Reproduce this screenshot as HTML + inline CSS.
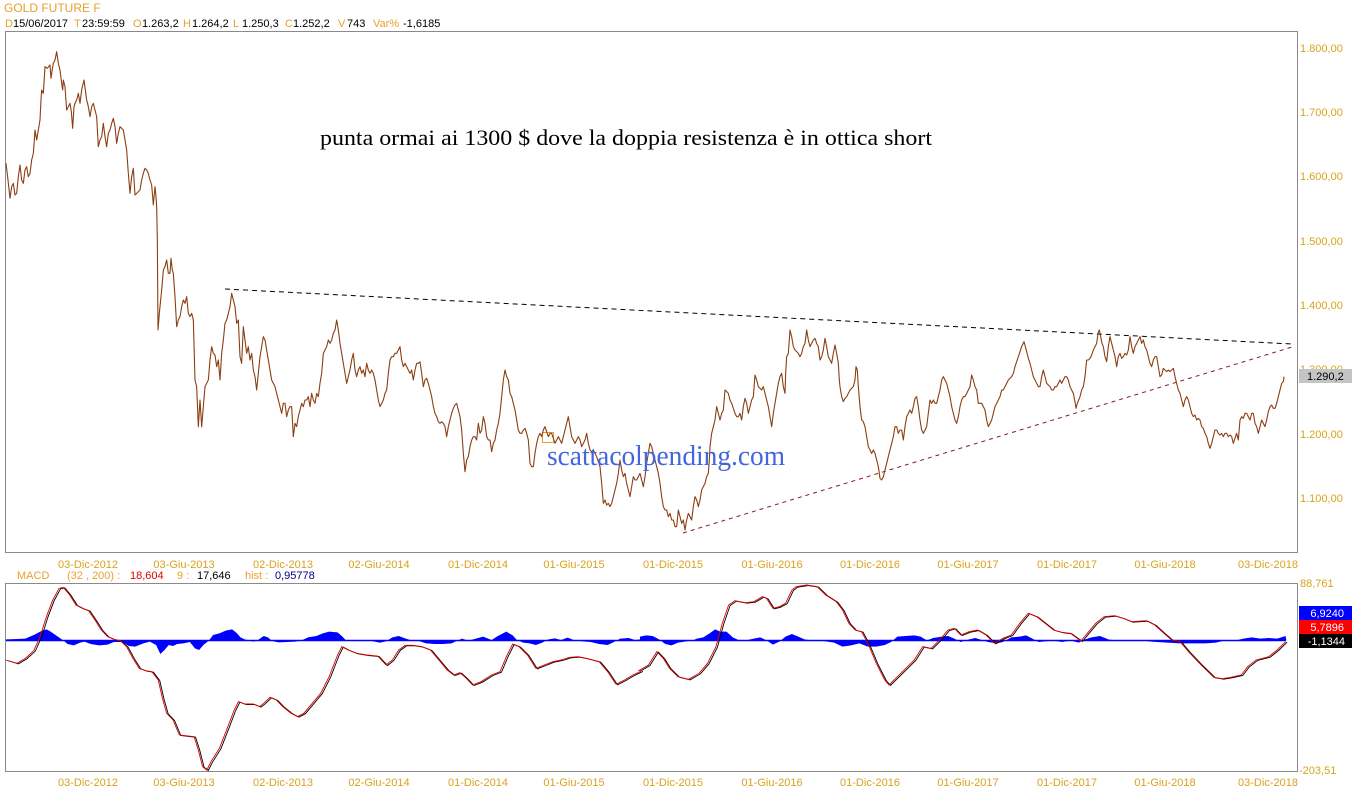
<!DOCTYPE html>
<html><head><meta charset="utf-8"><style>
html,body{margin:0;padding:0;background:#fff;}
svg{display:block;font-family:"Liberation Sans",Arial,sans-serif;font-size:11px;}
</style></head><body>
<svg width="1352" height="800" viewBox="0 0 1352 800" xmlns="http://www.w3.org/2000/svg">
<rect width="1352" height="800" fill="#fff"/>
<!-- header -->
<text x="4" y="12" style="font-size:12px" fill="#e8a02c">GOLD FUTURE F</text>
<text y="27" fill="#000"><tspan x="5" fill="#e8a02c">D</tspan><tspan x="13">15/06/2017</tspan><tspan x="74" fill="#e8a02c">T</tspan><tspan x="82">23:59:59</tspan><tspan x="133" fill="#e8a02c">O</tspan><tspan x="142">1.263,2</tspan><tspan x="183" fill="#e8a02c">H</tspan><tspan x="192">1.264,2</tspan><tspan x="233" fill="#e8a02c">L</tspan><tspan x="242">1.250,3</tspan><tspan x="285" fill="#e8a02c">C</tspan><tspan x="293">1.252,2</tspan><tspan x="338" fill="#e8a02c">V</tspan><tspan x="347">743</tspan><tspan x="373" fill="#e8a02c">Var%</tspan><tspan x="403">-1,6185</tspan></text>

<!-- main frame -->
<rect x="5.5" y="31.5" width="1292" height="521" fill="none" stroke="#8a8a8a" stroke-width="1"/>

<!-- y labels main -->
<g fill="#d9a21b">
<text x="1300" y="52">1.800,00</text>
<text x="1300" y="116">1.700,00</text>
<text x="1300" y="180">1.600,00</text>
<text x="1300" y="245">1.500,00</text>
<text x="1300" y="309">1.400,00</text>
<text x="1300" y="373">1.300,00</text>
<text x="1300" y="438">1.200,00</text>
<text x="1300" y="502">1.100,00</text>
</g>
<rect x="1299" y="369" width="53" height="14" fill="#c4c4c4"/>
<text x="1307" y="380" fill="#000">1.290,2</text>

<!-- annotation text -->
<text x="320" y="145" style="font-family:'Liberation Serif','Times New Roman',serif;font-size:22px" fill="#000" textLength="612" lengthAdjust="spacingAndGlyphs">punta ormai ai 1300 $ dove la doppia resistenza è in ottica short</text>

<!-- trend lines -->
<line x1="225" y1="289" x2="1292" y2="344" stroke="#000" stroke-width="1" stroke-dasharray="5,4"/>
<line x1="683" y1="533" x2="1292" y2="347" stroke="#8b1a1a" stroke-width="1" stroke-dasharray="4,4"/>

<rect x="542.5" y="432.5" width="11" height="10" fill="none" stroke="#e0a030" stroke-width="1"/>

<!-- price -->
<g fill="none" stroke="#8b3e12" stroke-width="1.1" stroke-linejoin="round">
<polyline vector-effect="non-scaling-stroke" transform="translate(0,40) scale(0.33333)" points="18,370 24,420 30,475 35,440 40,430 45,465 50,460 55,410 60,375 65,420 70,430 75,390 80,380 85,410 90,400 95,360 100,340 103,300 105,270 110,300 115,270 120,240 123,180 125,150 130,160 135,80 142,85 150,75 153,115 158,80 160,70 165,60 170,35 175,70 180,90 185,130 188,150 190,120 195,140 200,210 205,200 210,190 214,215 218,265 222,200 225,190 230,180 235,160 240,190 245,150 252,120 256,150 260,180 265,200 270,230 275,200 280,190 285,210 290,230 295,320 300,300 305,290 310,250 315,290 320,320 325,280 330,270 335,250 340,235 345,260 350,310 355,280 360,260 365,265 370,270 375,300 380,330 385,400 390,460 395,410 400,385 405,465 410,460 420,450 425,420 430,400 435,385 440,390 445,400 450,420 455,435 460,495 465,440 468,470 470,500 472,600 474,870 478,820 482,780 486,740 490,690 495,680 500,660 505,700 510,700 513,655 517,690 520,700 525,770 530,860 535,840 540,830 545,800 550,780 555,790 560,770 565,820 570,830 575,820 580,840 585,1020 590,1040 595,1160 600,1080 605,1160 610,1100 615,1040 620,1030 625,1020 630,960 635,920 640,940 645,945 650,980 655,960 660,1020 665,940 670,900 675,850 680,840 685,820 690,800 695,760 700,780 705,800 710,850 715,840 720,950 725,970 730,860 735,900 740,940 745,920 750,960 755,940 760,990 765,1010 770,1050 775,1000 780,950 785,920 790,890 795,900 800,930 805,960 810,990 815,1020 820,1030 825,1040 830,1060 835,1080 840,1100 845,1120 850,1090 855,1090 860,1130 865,1110 870,1100 875,1100 880,1190 885,1150 890,1160 895,1130 900,1110 905,1090 910,1100 915,1080 920,1080 925,1070 930,1100 935,1060 940,1080 945,1090 950,1060 955,1070 960,1030 965,1000 970,940 975,930 980,920 985,900 990,910 995,900 1000,880 1005,870 1010,840 1015,870 1020,910 1025,940 1030,970 1035,1000 1040,1030 1045,1010 1050,990 1055,960 1060,940 1065,990 1070,1010 1075,990 1080,980 1085,1000 1090,990 1095,1010 1100,970 1105,990 1110,1000 1115,990 1120,1000 1125,1020 1130,1050 1135,1080 1140,1100 1145,1090 1150,1080 1155,1060 1160,1050 1165,1000 1170,960 1175,950 1180,950 1185,940 1190,940 1195,930 1200,920 1205,960 1210,980 1215,970 1220,980 1225,990 1230,1000 1235,990 1240,1020 1245,990 1250,970 1255,970 1260,965"/>
<polyline vector-effect="non-scaling-stroke" transform="translate(420,280) scale(0.33333)" points="0,245 5,280 10,320 15,300 20,295 25,310 30,330 35,350 40,380 45,400 50,410 55,425 60,430 65,425 70,430 75,440 80,470 85,440 90,420 95,400 100,385 105,375 110,370 115,390 120,410 125,450 130,520 135,575 140,540 145,530 150,500 155,480 160,470 165,470 170,480 175,430 180,460 185,450 190,410 195,430 200,470 205,480 210,480 215,515 220,490 225,480 230,450 235,430 240,400 245,350 250,300 255,270 260,290 265,300 270,340 275,350 280,370 285,390 290,420 295,450 300,460 305,460 310,450 315,445 320,460 325,480 330,550 335,560 340,560 345,520 350,490 355,470 360,460 365,470 370,450 375,440 380,455 385,470 390,460 395,460 400,475 405,490 410,480 415,470 420,480 425,490 430,470 435,450 440,430 445,410 450,440 455,470 460,480 465,490 470,480 475,470 480,480 485,500 490,490 495,480 500,460 505,490 510,510 515,515 520,510 525,520 530,530 535,545 540,560 545,610 550,670 555,660 560,675 565,670 570,680 575,670 580,650 585,630 590,610 595,580 600,540 605,570 610,590 615,580 620,610 625,630 630,650 635,620 640,590 645,600 650,600 655,590 660,580 665,600 670,620 675,590 680,550 685,520 690,490 695,500 700,520 705,540 710,560 715,580 720,610 725,650 730,680 735,690 740,690 745,710 750,700 755,720 760,720 765,740 770,740 775,690 780,710 785,730 790,720 795,750 800,720 805,700 810,710 815,720 820,680 825,650 830,660 835,680 840,660 845,630 850,620 855,610 860,590 865,580 868,540 870,500 875,460 880,440 885,420 890,380 895,400 900,420 905,400 910,390 915,330 920,335 925,340 930,360 935,370 940,385 945,400 950,410 955,410 960,400 965,420 970,380 975,355 980,370 985,400 990,380 995,360 1000,350 1005,285 1010,300 1015,320 1020,325 1025,330 1030,320 1035,340 1040,360 1045,380 1050,410 1055,440 1060,400 1065,370 1070,340 1075,310 1080,290 1085,280 1090,320 1095,340 1097,280 1100,230 1105,220 1110,150 1115,170 1120,200 1125,210 1130,215 1135,220 1140,230 1145,220 1150,200 1155,190 1160,150 1165,180 1170,200 1175,190 1180,180 1185,175 1190,190 1195,200 1200,240 1205,230 1210,210 1215,175 1220,200 1225,230 1230,240 1235,250 1240,220 1245,195 1250,220 1255,250 1258,300 1260,320"/>
<polyline vector-effect="non-scaling-stroke" transform="translate(840,280) scale(0.33333)" points="0,320 5,350 10,365 15,355 20,350 25,340 30,330 35,325 40,320 45,300 48,260 52,270 55,320 60,380 65,420 70,425 75,440 80,470 85,500 90,510 95,520 100,510 105,520 110,540 115,560 118,580 120,595 125,600 130,590 135,570 140,550 145,530 150,510 155,490 160,470 165,440 170,440 175,460 180,450 185,450 190,480 195,440 200,410 205,400 210,390 215,400 220,380 225,355 230,350 235,380 240,420 245,450 250,460 255,450 260,440 265,400 270,360 275,370 280,360 285,370 290,370 295,350 300,330 305,300 310,290 315,300 320,310 325,330 330,350 335,380 340,400 345,420 350,430 355,410 360,380 365,360 370,350 375,350 380,340 385,330 390,320 395,285 400,300 405,320 410,330 415,370 420,370 425,370 430,380 435,390 440,420 445,440 450,430 455,420 460,400 465,380 470,370 475,360 480,350 485,330 490,330 495,320 500,310 505,300 510,295 515,290 520,280 525,260 530,245 535,230 540,215 545,200 552,185 556,200 560,215 565,235 570,250 575,270 580,290 585,300 590,310 595,320 600,320 605,290 610,270 615,290 620,310 625,315 630,320 635,330 640,330 645,320 650,320 655,310 660,300 665,310 670,300 675,290 680,290 685,300 690,320 695,330 700,340 705,365 708,385 712,370 716,360 720,350 725,330 730,320 735,290 740,240 745,240 750,235 755,225 760,210 765,200 770,190 774,160 778,150 782,170 786,190 790,200 795,230 800,245 805,200 810,170 815,190 820,210 825,230 830,260 835,230 840,220 845,235 850,230 855,220 860,225 865,210 870,170 875,200 880,220 885,200 890,190 895,180 900,170 905,190 910,180 915,200 920,210 925,230 930,250 935,260 940,240 945,230 950,230 955,260 960,290 965,285 970,265 975,270 980,275 985,270 990,275 995,270 1000,265 1005,290 1010,310 1015,330 1020,340 1025,360 1030,380 1035,360 1040,350 1045,360 1050,380 1055,400 1060,410 1065,405 1070,420 1075,415 1080,420 1085,440 1090,445 1095,460 1100,470 1105,490 1110,505 1115,490 1120,470 1125,450 1130,450 1135,460 1140,465 1145,460 1150,470 1155,460 1160,460 1165,470 1170,465 1175,470 1180,490 1185,475 1190,460 1195,480 1200,420 1205,410 1210,415 1215,400 1220,400 1225,410 1230,420 1235,400 1240,400 1245,430 1250,440 1255,460 1260,440 1265,420 1270,430 1275,440 1280,420 1285,395 1290,380 1295,375 1300,385 1305,385 1310,370 1315,350 1320,330 1325,310 1330,305 1332,290"/>
</g>

<!-- watermark -->
<text x="547" y="465" style="font-family:'Liberation Serif','Times New Roman',serif;font-size:28px" fill="#4466dd" textLength="238" lengthAdjust="spacingAndGlyphs">scattacolpending.com</text>

<!-- date labels top -->
<g fill="#d9a21b" text-anchor="middle">
<text x="88" y="568">03-Dic-2012</text>
<text x="184" y="568">03-Giu-2013</text>
<text x="283" y="568">02-Dic-2013</text>
<text x="379" y="568">02-Giu-2014</text>
<text x="478" y="568">01-Dic-2014</text>
<text x="574" y="568">01-Giu-2015</text>
<text x="673" y="568">01-Dic-2015</text>
<text x="772" y="568">01-Giu-2016</text>
<text x="870" y="568">01-Dic-2016</text>
<text x="968" y="568">01-Giu-2017</text>
<text x="1067" y="568">01-Dic-2017</text>
<text x="1165" y="568">01-Giu-2018</text>
<text x="1268" y="568">03-Dic-2018</text>
</g>

<!-- MACD header -->
<text y="579"><tspan x="17" fill="#e8a02c">MACD</tspan><tspan x="67" fill="#e8a02c">(32 , 200) :</tspan><tspan x="130" fill="#e00000">18,604</tspan><tspan x="177" fill="#e8a02c">9 :</tspan><tspan x="197" fill="#000">17,646</tspan><tspan x="245" fill="#e8a02c">hist :</tspan><tspan x="275" fill="#000080">0,95778</tspan></text>

<!-- MACD frame -->
<rect x="5.5" y="583.5" width="1292" height="188" fill="none" stroke="#8a8a8a" stroke-width="1"/>

<!-- histogram -->
<g fill="#0000ff">
<polygon transform="translate(0,580) scale(0.42194,0.33333)" points="14,181 14,178 40,177 60,176 80,165 100,152 110,148 120,155 135,168 150,181 160,192 175,196 190,188 200,185 215,192 235,196 255,194 270,186 290,186 305,198 320,200 340,190 355,185 370,195 380,222 390,210 400,195 410,198 420,192 435,190 450,186 462,205 472,210 482,195 495,182 505,165 520,160 535,152 550,148 560,158 570,172 580,178 590,181 600,185 610,181 625,168 635,172 645,183 660,187 680,186 700,185 715,181 730,172 750,168 765,160 780,155 800,157 810,168 820,181 835,183 860,182 880,183 900,188 915,184 930,172 945,168 960,175 975,181 990,182 1010,190 1030,192 1050,192 1070,190 1080,184 1095,176 1110,182 1130,175 1145,170 1165,180 1180,168 1200,155 1215,166 1225,180 1240,188 1255,190 1270,195 1285,188 1300,178 1315,175 1330,180 1345,173 1360,180 1380,184 1400,186 1420,192 1440,195 1455,186 1470,176 1490,174 1505,180 1517,178 1517,181"/>
<polygon transform="translate(640,580) scale(0.42194,0.33333)" points="0,181 0,170 15,166 30,168 45,178 60,192 75,196 90,188 110,184 125,181 135,176 150,172 165,160 178,148 190,155 205,155 220,172 235,181 250,181 270,176 285,172 300,181 315,194 330,185 345,170 360,162 375,170 390,178 405,181 420,181 440,184 460,188 480,200 500,196 520,190 540,200 560,200 580,195 595,186 610,170 630,168 650,166 665,170 680,181 695,174 715,170 730,168 745,176 760,186 780,178 795,174 810,180 825,186 845,190 860,186 880,172 900,170 915,166 930,176 945,186 960,184 980,182 1000,186 1020,182 1040,188 1055,178 1070,172 1090,168 1110,178 1125,181 1150,182 1170,181 1190,180 1205,184 1225,186 1250,188 1280,190 1310,190 1340,190 1365,188 1385,182 1410,182 1430,176 1450,172 1470,176 1490,174 1510,176 1530,168 1532,181"/>
</g>
<line x1="6" y1="640.5" x2="1286" y2="640.5" stroke="#0000ff" stroke-width="1.5"/>

<!-- MACD lines -->
<defs>
<polyline id="ma" vector-effect="non-scaling-stroke" transform="translate(0,580) scale(0.42194,0.33333)" points="14,240 40,250 60,235 80,212 95,170 110,110 125,60 140,25 150,22 165,45 180,75 195,85 210,92 225,120 240,150 255,170 270,178 285,182 300,200 315,235 330,265 345,272 360,275 375,300 385,355 395,400 410,420 425,465 445,468 460,470 470,510 480,560 490,570 500,545 520,505 540,440 555,390 565,365 580,372 600,372 615,380 625,370 640,352 655,360 670,380 690,400 705,410 720,400 740,370 760,340 780,290 800,225 810,200 825,210 845,220 870,225 895,228 915,255 930,240 945,210 960,196 980,196 1000,200 1020,210 1040,240 1060,270 1075,285 1090,278 1105,295 1120,315 1140,305 1165,285 1185,275 1200,230 1215,192 1230,200 1250,225 1270,265 1290,255 1310,245 1330,240 1350,232 1370,230 1390,235 1420,245 1440,275 1460,313 1480,300 1500,285 1517,275 1520,272"/>
<polyline id="mb" vector-effect="non-scaling-stroke" transform="translate(640,580) scale(0.42194,0.33333)" points="-4,272 0,270 20,255 40,215 55,235 70,265 90,290 115,298 140,280 160,250 180,200 195,130 210,75 225,62 250,68 270,65 290,50 300,55 315,85 330,80 345,70 360,30 370,20 395,15 420,20 440,45 465,65 480,90 495,130 510,150 525,155 540,190 560,250 580,300 590,315 610,290 630,265 650,240 670,200 690,205 710,180 730,150 745,145 760,165 780,155 800,150 820,165 840,190 860,175 880,165 900,130 920,100 940,110 960,130 980,150 1000,157 1020,160 1045,183 1060,160 1080,130 1100,110 1125,107 1145,115 1165,125 1200,122 1220,135 1240,158 1260,180 1280,185 1300,215 1330,255 1360,292 1380,296 1400,292 1425,285 1440,260 1460,240 1490,230 1510,210 1530,185"/>
</defs>
<g fill="none" stroke="#000" stroke-width="0.9" transform="translate(1.5,0.5)">
<use href="#ma"/><use href="#mb"/>
</g>
<g fill="none" stroke="#e00000" stroke-width="0.9">
<use href="#ma"/><use href="#mb"/>
</g>

<!-- MACD y labels -->
<text x="1300" y="587" fill="#d9a21b">88,761</text>
<text x="1299" y="774" fill="#d9a21b">-203,51</text>
<rect x="1299" y="606" width="53" height="14" fill="#0000ff"/>
<text x="1344" y="617" fill="#fff" text-anchor="end">6,9240</text>
<rect x="1299" y="620" width="53" height="14" fill="#ff0000"/>
<text x="1344" y="631" fill="#fff" text-anchor="end">5,7896</text>
<rect x="1299" y="634" width="53" height="14" fill="#000"/>
<text x="1345" y="645" fill="#fff" text-anchor="end">-1,1344</text>

<!-- date labels bottom -->
<g fill="#d9a21b" text-anchor="middle">
<text x="88" y="786">03-Dic-2012</text>
<text x="184" y="786">03-Giu-2013</text>
<text x="283" y="786">02-Dic-2013</text>
<text x="379" y="786">02-Giu-2014</text>
<text x="478" y="786">01-Dic-2014</text>
<text x="574" y="786">01-Giu-2015</text>
<text x="673" y="786">01-Dic-2015</text>
<text x="772" y="786">01-Giu-2016</text>
<text x="870" y="786">01-Dic-2016</text>
<text x="968" y="786">01-Giu-2017</text>
<text x="1067" y="786">01-Dic-2017</text>
<text x="1165" y="786">01-Giu-2018</text>
<text x="1268" y="786">03-Dic-2018</text>
</g>
</svg>
</body></html>
